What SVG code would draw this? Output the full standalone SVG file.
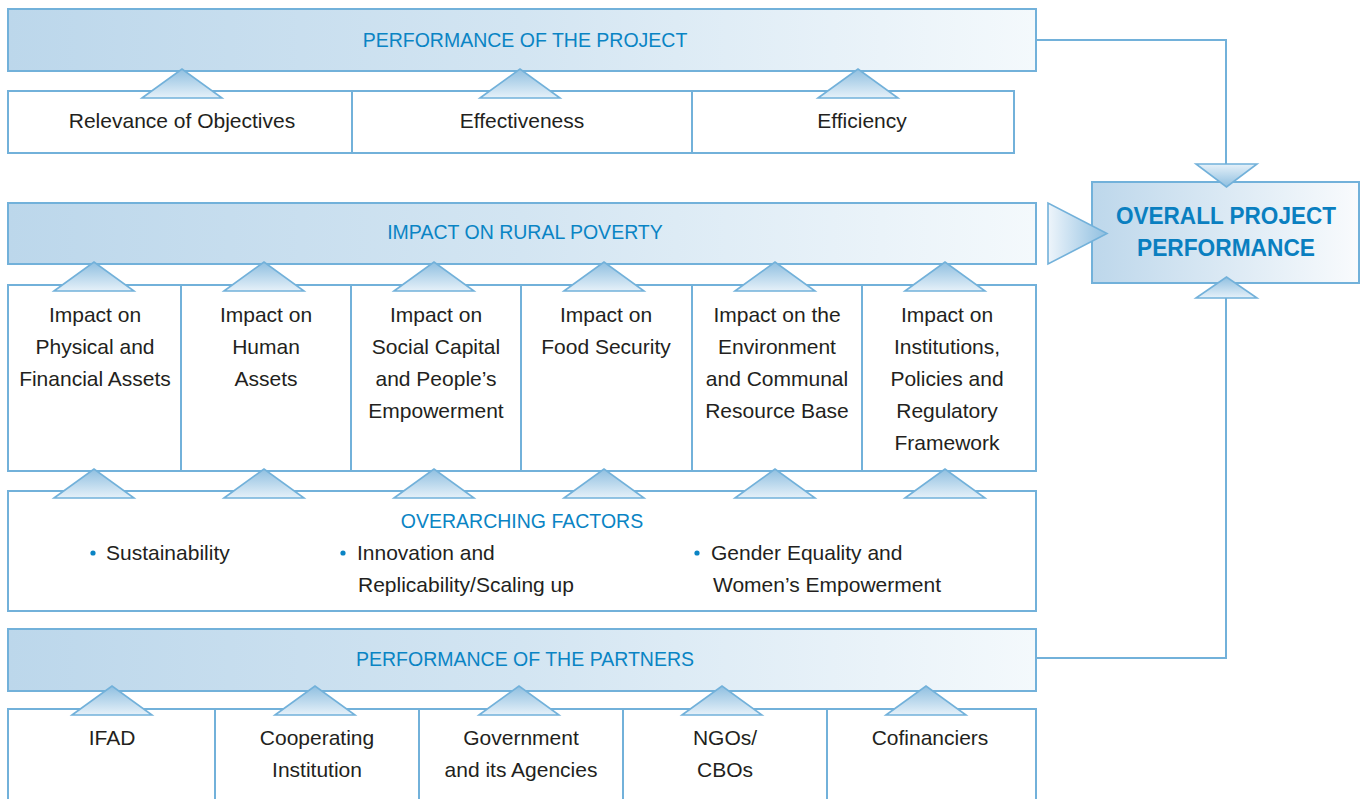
<svg xmlns="http://www.w3.org/2000/svg" width="1365" height="799" viewBox="0 0 1365 799">
  <defs>
    <linearGradient id="band" x1="0" y1="0" x2="1" y2="0">
      <stop offset="0" stop-color="#bcd7eb"/>
      <stop offset="0.5" stop-color="#d3e5f2"/>
      <stop offset="1" stop-color="#f4f9fc"/>
    </linearGradient>
    <linearGradient id="overall" x1="0" y1="0" x2="1" y2="0">
      <stop offset="0" stop-color="#bdd7eb"/>
      <stop offset="1" stop-color="#f9fbfd"/>
    </linearGradient>
    <linearGradient id="triUp" x1="0" y1="0" x2="0" y2="1">
      <stop offset="0" stop-color="#8fbfe0"/>
      <stop offset="1" stop-color="#e6f1f9"/>
    </linearGradient>
    <linearGradient id="triDown" x1="0" y1="1" x2="0" y2="0">
      <stop offset="0" stop-color="#8fbfe0"/>
      <stop offset="1" stop-color="#e6f1f9"/>
    </linearGradient>
    <linearGradient id="triRight" x1="0" y1="0" x2="1" y2="0">
      <stop offset="0" stop-color="#eef5fb"/>
      <stop offset="1" stop-color="#8fbfe0"/>
    </linearGradient>
    <path id="up" d="M-40,29 L0,0 L40,29 Z"/>
    <style>
      .band { fill: url(#band); stroke: #72b1da; stroke-width: 2; }
      .box { fill: #ffffff; stroke: #72b1da; stroke-width: 2; }
      .div { stroke: #72b1da; stroke-width: 2; }
      .tri { fill: url(#triUp); stroke: #72b1da; stroke-width: 1.6; }
      .wire { fill: none; stroke: #72b1da; stroke-width: 2; }
      .head { font-family: "Liberation Sans", Arial, sans-serif; font-size: 19.5px; fill: #0a84c4; text-anchor: middle; }
      .lbl { font-family: "Liberation Sans", Arial, sans-serif; font-size: 21px; fill: #231f20; text-anchor: middle; }
      .bl { font-family: "Liberation Sans", Arial, sans-serif; font-size: 21px; fill: #231f20; }
      .dot { fill: #0a84c4; }
      .big { font-family: "Liberation Sans", Arial, sans-serif; font-size: 24px; font-weight: bold; fill: #0a7fc0; text-anchor: middle; }
    </style>
  </defs>

  <!-- connectors to the overall box -->
  <g id="connectors">
    <polyline class="wire" points="1036,40 1226,40 1226,166"/>
    <polyline class="wire" points="1036,658 1226,658 1226,296"/>
  </g>

  <!-- project performance band and its criteria -->
  <g id="project">
    <rect class="band" x="8" y="9" width="1028" height="62"/>
    <text class="head" x="525" y="47">PERFORMANCE OF THE PROJECT</text>
  </g>
  <g id="project-criteria">
    <rect class="box" x="8" y="91" width="1006" height="62"/>
    <line class="div" x1="352" y1="91" x2="352" y2="153"/>
    <line class="div" x1="692" y1="91" x2="692" y2="153"/>
    <use href="#up" class="tri" x="182" y="69"/>
    <use href="#up" class="tri" x="520" y="69"/>
    <use href="#up" class="tri" x="858" y="69"/>
    <text class="lbl" x="182" y="128">Relevance of Objectives</text>
    <text class="lbl" x="522" y="128">Effectiveness</text>
    <text class="lbl" x="862" y="128">Efficiency</text>
  </g>

  <!-- rural poverty band and impact domains -->
  <g id="poverty">
    <rect class="band" x="8" y="203" width="1028" height="61"/>
    <text class="head" x="525" y="239">IMPACT ON RURAL POVERTY</text>
  </g>
  <g id="impact-domains">
    <rect class="box" x="8" y="285" width="1028" height="186"/>
    <line class="div" x1="181" y1="285" x2="181" y2="471"/>
    <line class="div" x1="351" y1="285" x2="351" y2="471"/>
    <line class="div" x1="521" y1="285" x2="521" y2="471"/>
    <line class="div" x1="692" y1="285" x2="692" y2="471"/>
    <line class="div" x1="862" y1="285" x2="862" y2="471"/>
    <use href="#up" class="tri" x="94" y="262"/>
    <use href="#up" class="tri" x="264" y="262"/>
    <use href="#up" class="tri" x="434" y="262"/>
    <use href="#up" class="tri" x="604" y="262"/>
    <use href="#up" class="tri" x="775" y="262"/>
    <use href="#up" class="tri" x="945" y="262"/>
    <text class="lbl" y="322"><tspan x="95">Impact on</tspan><tspan x="95" dy="32">Physical and</tspan><tspan x="95" dy="32">Financial Assets</tspan></text>
    <text class="lbl" y="322"><tspan x="266">Impact on</tspan><tspan x="266" dy="32">Human</tspan><tspan x="266" dy="32">Assets</tspan></text>
    <text class="lbl" y="322"><tspan x="436">Impact on</tspan><tspan x="436" dy="32">Social Capital</tspan><tspan x="436" dy="32">and People’s</tspan><tspan x="436" dy="32">Empowerment</tspan></text>
    <text class="lbl" y="322"><tspan x="606">Impact on</tspan><tspan x="606" dy="32">Food Security</tspan></text>
    <text class="lbl" y="322"><tspan x="777">Impact on the</tspan><tspan x="777" dy="32">Environment</tspan><tspan x="777" dy="32">and Communal</tspan><tspan x="777" dy="32">Resource Base</tspan></text>
    <text class="lbl" y="322"><tspan x="947">Impact on</tspan><tspan x="947" dy="32">Institutions,</tspan><tspan x="947" dy="32">Policies and</tspan><tspan x="947" dy="32">Regulatory</tspan><tspan x="947" dy="32">Framework</tspan></text>
  </g>

  <!-- overarching factors -->
  <g id="factors">
    <rect class="box" x="8" y="491" width="1028" height="120"/>
    <use href="#up" class="tri" x="94" y="469"/>
    <use href="#up" class="tri" x="264" y="469"/>
    <use href="#up" class="tri" x="434" y="469"/>
    <use href="#up" class="tri" x="604" y="469"/>
    <use href="#up" class="tri" x="775" y="469"/>
    <use href="#up" class="tri" x="945" y="469"/>
    <text class="head" x="522" y="528">OVERARCHING FACTORS</text>
    <circle class="dot" cx="93" cy="553" r="2.6"/>
    <text class="bl" x="106" y="560">Sustainability</text>
    <circle class="dot" cx="343" cy="553" r="2.6"/>
    <text class="bl" x="357" y="560">Innovation and</text>
    <text class="bl" x="358" y="592">Replicability/Scaling up</text>
    <circle class="dot" cx="697" cy="553" r="2.6"/>
    <text class="bl" x="711" y="560">Gender Equality and</text>
    <text class="bl" x="713" y="592">Women’s Empowerment</text>
  </g>

  <!-- partners band and partner list -->
  <g id="partners">
    <rect class="band" x="8" y="629" width="1028" height="62"/>
    <text class="head" x="525" y="666">PERFORMANCE OF THE PARTNERS</text>
  </g>
  <g id="partner-list">
    <rect class="box" x="8" y="709" width="1028" height="100"/>
    <line class="div" x1="215" y1="709" x2="215" y2="799"/>
    <line class="div" x1="419" y1="709" x2="419" y2="799"/>
    <line class="div" x1="623" y1="709" x2="623" y2="799"/>
    <line class="div" x1="827" y1="709" x2="827" y2="799"/>
    <use href="#up" class="tri" x="112" y="686"/>
    <use href="#up" class="tri" x="315" y="686"/>
    <use href="#up" class="tri" x="519" y="686"/>
    <use href="#up" class="tri" x="722" y="686"/>
    <use href="#up" class="tri" x="926" y="686"/>
    <text class="lbl" x="112" y="745">IFAD</text>
    <text class="lbl" y="745"><tspan x="317">Cooperating</tspan><tspan x="317" dy="32">Institution</tspan></text>
    <text class="lbl" y="745"><tspan x="521">Government</tspan><tspan x="521" dy="32">and its Agencies</tspan></text>
    <text class="lbl" y="745"><tspan x="725">NGOs/</tspan><tspan x="725" dy="32">CBOs</tspan></text>
    <text class="lbl" x="930" y="745">Cofinanciers</text>
  </g>

  <!-- overall project performance -->
  <g id="overall-box">
    <rect x="1092" y="182" width="267" height="101" fill="url(#overall)" stroke="#72b1da" stroke-width="2"/>
    <path d="M1196,164 L1257,164 L1226.5,187 Z" fill="url(#triDown)" stroke="#72b1da" stroke-width="1.6"/>
    <path d="M1196,298 L1257,298 L1226.5,277 Z" fill="url(#triUp)" stroke="#72b1da" stroke-width="1.6"/>
    <path d="M1048,203 L1048,264 L1107,233.5 Z" fill="url(#triRight)" stroke="#72b1da" stroke-width="1.6"/>
    <text class="big" x="1226" y="224" textLength="220" lengthAdjust="spacingAndGlyphs">OVERALL PROJECT</text>
    <text class="big" x="1226" y="256" textLength="178" lengthAdjust="spacingAndGlyphs">PERFORMANCE</text>
  </g>
</svg>
